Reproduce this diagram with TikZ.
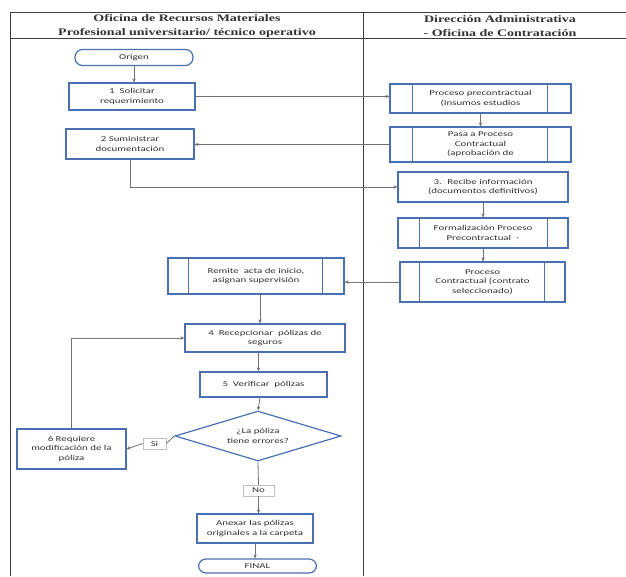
\documentclass[tikz,border=0pt]{standalone}
\usepackage{fontspec}
\usetikzlibrary{arrows.meta,shapes.geometric,calc}
\newfontfamily\bodyfont[FakeStretch=1.45]{Carlito}
\newfontfamily\headfont[FakeStretch=1.4]{Liberation Serif}
\definecolor{boxblue}{RGB}{74,112,178}
\definecolor{connc}{RGB}{115,115,115}
\definecolor{txtc}{RGB}{50,50,50}
\definecolor{gridc}{RGB}{60,60,60}
\newcommand{\predefbars}[3]{%
  \draw[boxblue,line width=1.2pt] ([xshift=#2]#1.north west) -- ([xshift=#2]#1.south west);
  \draw[boxblue,line width=1.2pt] ([xshift=-#3]#1.north east) -- ([xshift=-#3]#1.south east);}
\begin{document}
\begin{tikzpicture}[x=1pt,y=-1pt,
  box/.style={draw=boxblue,line width=1.2pt,fill=white,align=center,inner sep=1pt,
    font={\bodyfont\fontsize{7.5}{9.5}\selectfont},text=txtc},
  term/.style={box,rounded corners=7.5pt},
  diam/.style={box,shape=diamond,aspect=3.3,inner sep=0pt},
  lbl/.style={draw=black!25,line width=0.5pt,fill=white,inner sep=2pt,
    font={\bodyfont\fontsize{7.5}{9}\selectfont},text=txtc},
  head/.style={align=center,font={\headfont\bfseries\fontsize{10}{14.5}\selectfont},text=black!80},
  cline/.style={draw=connc,line width=0.8pt},
  conn/.style={cline,-{Stealth[length=4pt,width=3.5pt]}},
  gridl/.style={draw=gridc,line width=0.8pt}]
\useasboundingbox (0,0) rectangle (626,576);
\fill[white] (0,0) rectangle (626,576);
% table
\draw[gridl] (10,12) -- (626,12);
\draw[gridl] (10,38) -- (626,38);
\draw[gridl] (10,12) -- (10,576);
\draw[gridl] (363,12) -- (363,576);
\node[head] (hd1) at (187,26) {Oficina de Recursos Materiales\\Profesional universitario/ técnico operativo};
\node[head] (hd2) at (500,26) {Dirección Administrativa\\- Oficina de Contratación};
% left column
\node[term,minimum width=118pt,minimum height=16pt] (org) at (134,57.5) {Origen};
\node[box,minimum width=126pt,minimum height=27pt] (b1) at (132,96.5) {1 \ Solicitar\\requerimiento};
\node[box,minimum width=128pt,minimum height=30pt] (b2) at (130,144) {2 Suministrar\\documentación};
% right column
\node[box,minimum width=181pt,minimum height=29pt] (p1) at (480.5,98.5) {Proceso precontractual\\(Insumos estudios};
\predefbars{p1}{23pt}{24pt}
\node[box,minimum width=181pt,minimum height=35pt] (p2) at (480.5,144.5) {Pasa a Proceso\\Contractual\\(aprobación de};
\predefbars{p2}{23pt}{24pt}
\node[box,minimum width=170pt,minimum height=30pt] (b3) at (483,187) {3. \ Recibe información\\(documentos definitivos)};
\node[box,minimum width=170pt,minimum height=30pt] (p3) at (483,233) {Formalización Proceso\\Precontractual \ -};
\predefbars{p3}{22pt}{21pt}
\node[box,minimum width=165pt,minimum height=40pt] (p4) at (482.5,282) {Proceso\\Contractual (contrato\\seleccionado)};
\predefbars{p4}{20pt}{21pt}
% lower left
\node[box,minimum width=176pt,minimum height=36pt] (p5) at (256,276) {Remite \ acta de inicio,\\asignan supervisión};
\predefbars{p5}{21pt}{22pt}
\node[box,minimum width=160pt,minimum height=28pt] (b4) at (265,338) {4 \ Recepcionar \ pólizas de\\seguros};
\node[box,minimum width=127pt,minimum height=25pt] (b5) at (263.5,384.5) {5 \ Verificar \ pólizas};
\node[diam,minimum width=166pt,minimum height=50pt] (dia) at (258,436) {¿La póliza\\tiene errores?};
\node[box,minimum width=109pt,minimum height=40pt] (b6) at (71.5,449) {6 Requiere\\modificación de la\\póliza};
\node[lbl,minimum width=23pt,minimum height=11pt] (si) at (154.5,443.5) {Si};
\node[lbl,minimum width=31pt,minimum height=11pt] (no) at (258.5,490.5) {No};
\node[box,minimum width=116pt,minimum height=29pt] (b7) at (255,528.5) {Anexar las pólizas\\originales a la carpeta};
\node[term,minimum width=118pt,minimum height=14pt] (fin) at (257.5,566) {FINAL};
% connectors
\draw[conn] (org.south) -- (org.south |- b1.north);
\draw[conn] (b1.east) -- (b1.east -| p1.west);
\draw[conn] (p1.south) -- (p1.south |- p2.north);
\draw[conn] (p2.west) -- (p2.west -| b2.east);
\draw[conn] (b2.south) |- (b3.west);
\draw[conn] (b3.south) -- (b3.south |- p3.north);
\draw[conn] (p3.south) -- (p3.south |- p4.north);
\draw[conn] (p4.west) -- (p4.west -| p5.east);
\draw[conn] (p5.south -| b4.north) ++(-5,0) coordinate (c45) -- (c45 |- b4.north);
\draw[conn] (b4.south -| b5.north) ++(-5,0) coordinate (c5) -- (c5 |- b5.north);
\draw[conn] (b5.south -| dia.north) ++(2,0) coordinate (c6) -- (dia.north);
\draw[cline] (dia.west) -- (si.east);
\draw[conn] (si.west) -- (b6.east);
\draw[cline] (dia.south) -- (no.north);
\draw[conn] (no.south) -- (no.south |- b7.north);
\draw[conn] (b7.south) -- (b7.south |- fin.north);
\draw[conn] (b6.north) |- (b4.west);
\end{tikzpicture}
\end{document}
